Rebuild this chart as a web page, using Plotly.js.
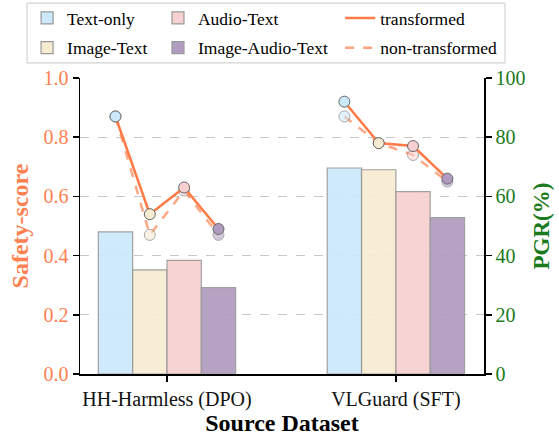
<!DOCTYPE html>
<html>
<head>
<meta charset="utf-8">
<script src="https://cdn.plot.ly/plotly-3.0.1.min.js"></script>
<style>html,body{margin:0;padding:0;background:#fff;}#chart{width:559px;height:438px;}</style>
</head>
<body>
<div id="chart"></div>
<script>
// ---- data ----
const datasets = ["HH-Harmless (DPO)", "VLGuard (SFT)"];
const modalities = ["Text-only", "Image-Text", "Audio-Text", "Image-Audio-Text"];
// PGR (%) bars, per modality, per dataset
const pgrTextOnly = [48, 69.6];
const pgrImageText = [35.2, 69.0];
const pgrAudioText = [38.4, 61.6];
const pgrImageAudioText = [29.2, 52.8];
// Safety-score lines, per dataset, per modality
const safetyTransformedHH = [0.87, 0.54, 0.63, 0.49];
const safetyTransformedVL = [0.92, 0.78, 0.77, 0.66];
const safetyNonTransformedHH = [0.87, 0.47, 0.62, 0.47];
const safetyNonTransformedVL = [0.87, 0.78, 0.74, 0.65];
const yTicksLeft = [0, 0.2, 0.4, 0.6, 0.8, 1.0];
const yTicksRight = [0, 20, 40, 60, 80, 100];

// ---- styles ----
const colors = ["#CBE9FA", "#F7EBD1", "#F8D0D1", "#B09CC0"];
const lineColor = "#FF7A45";
const orange = "#FF7F50";
const green = "#1B7A1B";
const font = "Liberation Serif";
const barW = 0.15;
const offsets = modalities.map((_, j) => (j - (modalities.length - 1) / 2) * barW);

const pgrSeries = [pgrTextOnly, pgrImageText, pgrAudioText, pgrImageAudioText];
const barLegend = ["legend", "legend", "legend2", "legend2"];

const traces = [];
pgrSeries.forEach((vals, j) => {
  traces.push({
    type: "bar",
    name: modalities[j],
    x: datasets.map((_, i) => i + offsets[j]),
    y: vals,
    width: barW,
    yaxis: "y",
    marker: {color: colors[j], opacity: 0.92, line: {color: "#999999", width: 1.2}},
    legend: barLegend[j],
    legendgroup: "g" + j,
    hoverinfo: "skip"
  });
});

const lineSets = [
  [safetyNonTransformedHH, 0, "dash", 0.55, 0.65],
  [safetyNonTransformedVL, 1, "dash", 0.55, 0.65],
  [safetyTransformedHH, 0, "solid", 1, 1],
  [safetyTransformedVL, 1, "solid", 1, 1]
];
lineSets.forEach(([vals, i, dash, mop, lop]) => {
  traces.push({
    type: "scatter",
    mode: "lines",
    x: modalities.map((_, j) => i + offsets[j]),
    y: vals,
    yaxis: "y2",
    line: {color: lineColor, width: 2.5, dash: dash},
    opacity: lop,
    showlegend: false,
    hoverinfo: "skip"
  });
  traces.push({
    type: "scatter",
    mode: "markers",
    x: modalities.map((_, j) => i + offsets[j]),
    y: vals,
    yaxis: "y2",
    marker: {size: 11, color: colors, opacity: mop, line: {color: "#666666", width: 1}},
    showlegend: false,
    hoverinfo: "skip"
  });
});
// legend-only line entries
traces.push({type: "scatter", mode: "lines", name: "transformed", x: [null], y: [null], yaxis: "y2",
  line: {color: lineColor, width: 2.5}, legend: "legend3", legendgroup: "t1"});
traces.push({type: "scatter", mode: "lines", name: "non-transformed", x: [null], y: [null], yaxis: "y2",
  line: {color: lineColor, width: 2.5, dash: "dash"}, opacity: 0.7, legend: "legend3", legendgroup: "t2"});

const legendBase = {
  orientation: "v", yanchor: "top", xanchor: "left", yref: "container", y: 1.01,
  bgcolor: "rgba(0,0,0,0)", borderwidth: 0,
  font: {family: font, size: 17.5, color: "#000"},
  traceorder: "grouped", tracegroupgap: 4
};

const layout = {
  width: 559, height: 438,
  margin: {l: 80, r: 75, t: 78, b: 64},
  paper_bgcolor: "#fff", plot_bgcolor: "#fff",
  font: {family: font, size: 16, color: "#000"},
  showlegend: true,
  legend: Object.assign({}, legendBase, {x: -0.131}),
  legend2: Object.assign({}, legendBase, {x: 0.193}),
  legend3: Object.assign({}, legendBase, {x: 0.644}),
  shapes: [{
    type: "rect", xref: "paper", yref: "paper",
    x0: -0.131, x1: 1.052, y0: 1.051, y1: 1.253,
    line: {color: "#d4d4d4", width: 1.2}, fillcolor: "rgba(0,0,0,0)", layer: "above"
  }],
  xaxis: {
    range: [-0.38, 1.385],
    tickvals: datasets.map((_, i) => i), ticktext: datasets,
    showline: true, linecolor: "#000", linewidth: 1.5,
    ticks: "outside", ticklen: 6, tickcolor: "#000", tickwidth: 1.5,
    showgrid: false, zeroline: false,
    tickfont: {family: font, size: 20, color: "#111"},
    title: {text: "<b>Source Dataset</b>", font: {family: font, size: 24, color: "#000"}, standoff: 3}
  },
  yaxis: {
    side: "right", range: [0, 100],
    tickvals: yTicksRight, ticktext: yTicksRight.map(String),
    showline: true, linecolor: "#000", linewidth: 1.5,
    ticks: "outside", ticklen: 6, tickcolor: "#000", tickwidth: 1.5,
    showgrid: true, gridcolor: "#c8c8c8", griddash: "dash", gridwidth: 1.3,
    zeroline: false,
    tickfont: {family: font, size: 20, color: green},
    title: {text: "<b>PGR(%)</b>", font: {family: font, size: 23, color: green}, standoff: 8}
  },
  yaxis2: {
    overlaying: "y", side: "left", range: [0, 1],
    tickvals: yTicksLeft, ticktext: yTicksLeft.map(v => v.toFixed(1)),
    showline: true, linecolor: "#000", linewidth: 1.5,
    ticks: "outside", ticklen: 6, tickcolor: "#000", tickwidth: 1.5,
    showgrid: false, zeroline: false,
    tickfont: {family: font, size: 20, color: orange},
    title: {text: "<b>Safety-score</b>", font: {family: font, size: 24, color: orange}, standoff: 8}
  }
};

Plotly.newPlot("chart", traces, layout, {displayModeBar: false, staticPlot: true});
</script>
</body>
</html>
